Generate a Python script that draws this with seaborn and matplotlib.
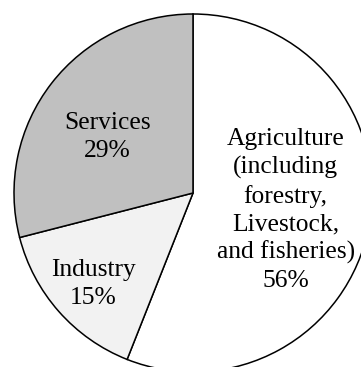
import numpy as np
import matplotlib
matplotlib.use("Agg")
import matplotlib.pyplot as plt
import seaborn as sns

# Sector shares of the economy (%)
sectors = ["Agriculture\n(including\nforestry,\nLivestock,\nand fisheries)", "Industry", "Services"]
shares = [56, 15, 29]
fills = ["#ffffff", "#f2f2f2", "#c0c0c0"]
# label placement: fraction of the radius and angular nudge (degrees) from the wedge middle
label_frac = [0.526, 0.755, 0.571]
label_nudge = [0.4, 0.9, 4.6]

sns.set_theme(style="white")
plt.rcParams["font.family"] = ["Liberation Serif", "DejaVu Serif"]

W, H = 361, 367
fig = plt.figure(figsize=(W / 100, H / 100), dpi=100)
ax = fig.add_axes([0, 0, 1, 1])

cx, cy, r = 193, H - 193, 179
wedges, _ = ax.pie(
    shares,
    colors=fills,
    startangle=90,
    counterclock=False,
    center=(cx, cy),
    radius=r,
    frame=True,
    wedgeprops=dict(edgecolor="black", linewidth=1.1),
)
ax.set_xlim(0, W)
ax.set_ylim(0, H)
ax.set_axis_off()

for w, name, val, frac, nudge in zip(wedges, sectors, shares, label_frac, label_nudge):
    mid = np.deg2rad((w.theta1 + w.theta2) / 2 + nudge)
    x = cx + r * frac * np.cos(mid)
    y = cy + r * frac * np.sin(mid)
    ax.text(x, y, f"{name}\n{val}%", ha="center", va="center",
            fontsize=18.4, linespacing=1.32, color="black")

fig.savefig("out.png", dpi=100)
